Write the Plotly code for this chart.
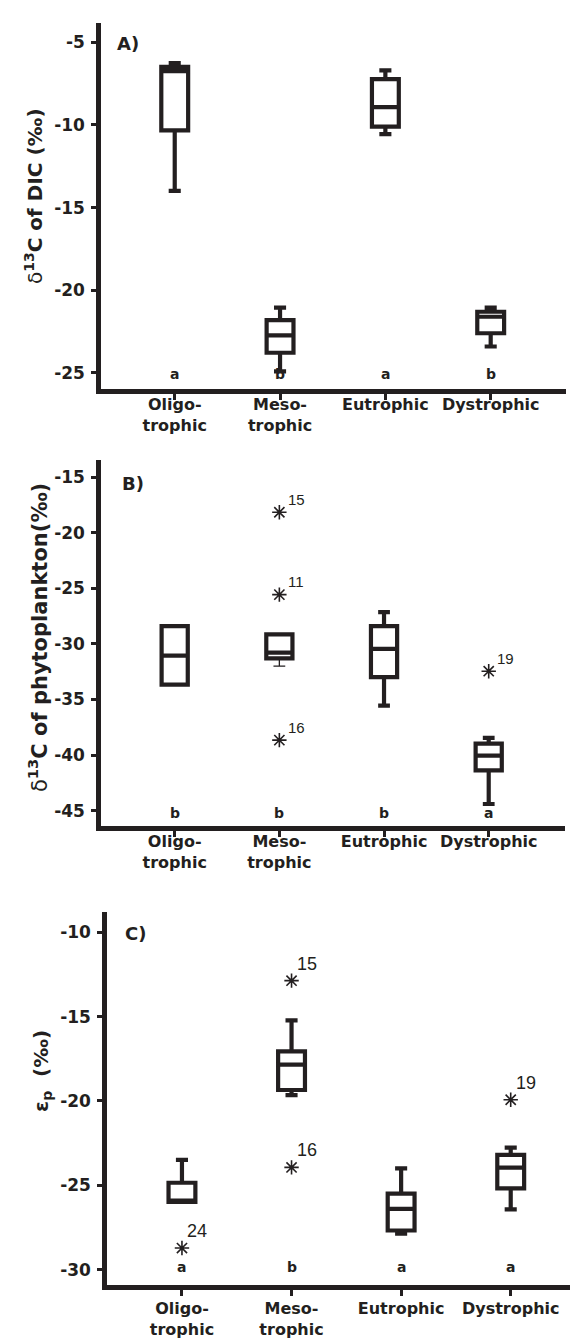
import plotly.graph_objects as go

# ---------------- data ----------------
categories = ["Oligo-<br>trophic", "Meso-<br>trophic", "Eutrophic", "Dystrophic"]

# Panel A: delta13C of DIC (permil)
a_lower = [-13.98, -24.9, -10.55, -23.4]
a_q1 = [-10.32, -23.78, -10.1, -22.6]
a_median = [-6.74, -22.73, -8.92, -21.6]
a_q3 = [-6.48, -21.8, -7.22, -21.3]
a_upper = [-6.25, -21.05, -6.7, -21.05]
a_letters = ["a", "b", "a", "b"]
a_ticks = [-25, -20, -15, -10, -5]

# Panel B: delta13C of phytoplankton (permil)
b_lower = [-33.65, -32.0, -35.54, -44.4]
b_q1 = [-33.65, -31.3, -32.98, -41.38]
b_median = [-31.04, -30.78, -30.44, -40.04]
b_q3 = [-28.4, -29.13, -28.4, -38.96]
b_upper = [-28.4, -29.13, -27.14, -38.44]
b_letters = ["b", "b", "b", "a"]
b_out_cat = ["Meso-<br>trophic", "Meso-<br>trophic", "Meso-<br>trophic", "Dystrophic"]
b_out_val = [-18.15, -25.56, -38.65, -32.45]
b_out_id = ["15", "11", "16", "19"]
b_ticks = [-45, -40, -35, -30, -25, -20, -15]

# Panel C: epsilon_p (permil)
c_lower = [-25.98, -19.65, -27.86, -26.43]
c_q1 = [-25.98, -19.35, -27.68, -25.18]
c_median = [-25.9, -17.85, -26.4, -23.95]
c_q3 = [-24.85, -17.06, -25.49, -23.2]
c_upper = [-23.49, -15.22, -24.0, -22.77]
c_letters = ["a", "b", "a", "a"]
c_out_cat = ["Oligo-<br>trophic", "Meso-<br>trophic", "Meso-<br>trophic", "Dystrophic"]
c_out_val = [-28.72, -12.87, -23.94, -19.93]
c_out_id = ["24", "15", "16", "19"]
c_ticks = [-30, -25, -20, -15, -10]

# ---------------- style ----------------
INK = "#231f20"
FONT = "DejaVu Sans"
W, H = 578, 1343

fig = go.Figure()


def add_box(xa, ya, q1, med, q3, lo, hi, width, lw=4.2, cats=categories, ww=0.45):
    fig.add_trace(go.Box(
        x=cats, q1=q1, median=med, q3=q3, lowerfence=lo, upperfence=hi,
        width=width, whiskerwidth=ww, fillcolor="white",
        line=dict(color=INK, width=lw), boxpoints=False,
        xaxis=xa, yaxis=ya, showlegend=False, hoverinfo="skip"))


# Panel A
add_box("x", "y", a_q1, a_median, a_q3, a_lower, a_upper, 0.255)

# Panel B: thin lower whisker of the mesotrophic box drawn first, then thick boxes
add_box("x2", "y2", [b_q1[1]], [b_q1[1]], [b_q1[1]], [b_lower[1]], [b_q1[1]], 0.25,
        lw=1.3, cats=[categories[1]], ww=0.45)
b_lower_thick = [b_q1[i] if i == 1 else b_lower[i] for i in range(4)]
add_box("x2", "y2", b_q1, b_median, b_q3, b_lower_thick, b_upper, 0.25)

# Panel C
add_box("x3", "y3", c_q1, c_median, c_q3, c_lower, c_upper, 0.245)

# Outliers
for xa, ya, cats, vals, sz in [("x2", "y2", b_out_cat, b_out_val, 12),
                               ("x3", "y3", c_out_cat, c_out_val, 12)]:
    fig.add_trace(go.Scatter(
        x=cats, y=vals, mode="markers", xaxis=xa, yaxis=ya, showlegend=False,
        marker=dict(symbol="asterisk-open", size=sz, color=INK, line=dict(width=1.6, color=INK)),
        hoverinfo="skip"))

annotations = []
# outlier ids
for cats, vals, ids, xr, yr, fs, dx, dy in [
    (b_out_cat, b_out_val, b_out_id, "x2", "y2", 15, 17, 13),
    (c_out_cat, c_out_val, c_out_id, "x3", "y3", 18, 15, 17),
]:
    for c, v, t in zip(cats, vals, ids):
        annotations.append(dict(x=c, y=v, xref=xr, yref=yr, text=t, showarrow=False,
                                xshift=dx, yshift=dy,
                                font=dict(family="Liberation Sans", size=fs, color=INK)))

# significance letters
for letters, xr, yr, yv in [(a_letters, "x", "y", -25.5), (b_letters, "x2", "y2", -45.8),
                            (c_letters, "x3", "y3", -30.26)]:
    for c, t in zip(categories, letters):
        annotations.append(dict(x=c, y=yv, xref=xr, yref=yr, text=t, showarrow=False,
                                yshift=7,
                                font=dict(family=FONT, size=14, color=INK, weight="bold")))

# panel letters
for txt, px, py in [("A)", 107, 35), ("B)", 112, 475), ("C)", 115, 925)]:
    annotations.append(dict(x=px / W, y=1 - py / H, xref="paper", yref="paper", text=txt,
                            xanchor="left", yanchor="middle", showarrow=False,
                            font=dict(family=FONT, size=18, color=INK, weight="bold")))

# y-axis titles
titles = [
    ("<span style='font-weight:normal'>δ</span><sup>13</sup>C of DIC (‰)", 26, 188, 20),
    ("<span style='font-weight:normal'>δ</span><sup>13</sup>C of phytoplankton(‰)", 30, 630, 21),
    ("ε<sub>p</sub>  (‰)", 34, 1063, 20),
]
for txt, px, py, fs in titles:
    annotations.append(dict(x=px / W, y=1 - py / H, xref="paper", yref="paper", text=txt,
                            textangle=-90, xanchor="center", yanchor="middle", showarrow=False,
                            font=dict(family=FONT, size=fs, color=INK, weight="bold")))


def yaxis(dom, rng, ticks, anchor):
    return dict(domain=dom, range=rng, anchor=anchor, showline=True, linewidth=4.5, linecolor=INK,
                ticks="outside", ticklen=5, tickwidth=3, tickcolor=INK,
                tickmode="array", tickvals=ticks, ticktext=[str(t) for t in ticks],
                ticklabelstandoff=3,
                tickfont=dict(family=FONT, size=17, color=INK, weight="bold"),
                showgrid=False, zeroline=False)


def xaxis(dom, rng, anchor, standoff):
    return dict(domain=dom, range=rng, anchor=anchor, type="category",
                categoryorder="array", categoryarray=categories, showline=True,
                linewidth=4.5, linecolor=INK, ticks="outside", ticklen=6, tickwidth=3,
                tickcolor=INK, tickmode="array", tickvals=categories, ticktext=categories,
                ticklabelstandoff=standoff,
                tickfont=dict(family=FONT, size=16, color=INK, weight="bold"),
                showgrid=False, zeroline=False)


fig.update_layout(
    width=W, height=H, margin=dict(l=0, r=0, t=0, b=0),
    paper_bgcolor="white", plot_bgcolor="white", boxmode="overlay",
    xaxis=xaxis([93 / W, 558 / W], [-0.70, 3.715], "y", -9),
    yaxis=yaxis([1 - 380.8 / H, 1 - 15 / H], [-25.96, -3.83], a_ticks, "x"),
    xaxis2=xaxis([93 / W, 556.7 / W], [-0.704, 3.726], "y2", -9),
    yaxis2=yaxis([1 - 817.8 / H, 1 - 451.7 / H], [-46.36, -13.42], b_ticks, "x2"),
    xaxis3=xaxis([99 / W, 1.0], [-0.684, 3.687], "y3", -1),
    yaxis3=yaxis([1 - 1277 / H, 1 - 904 / H], [-30.91, -8.80], c_ticks, "x3"),
    annotations=annotations,
)

fig.write_html("out.html")
